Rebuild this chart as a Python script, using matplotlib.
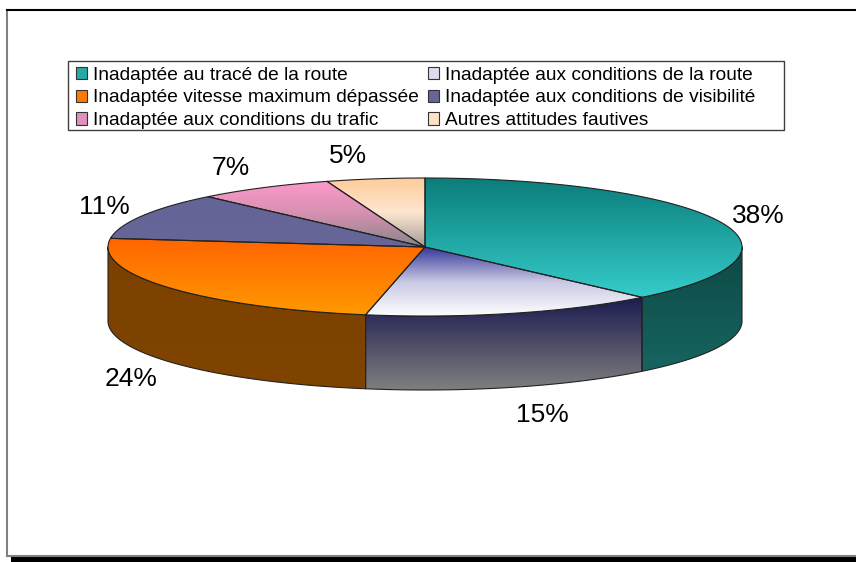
import numpy as np
import matplotlib
matplotlib.use('Agg')
import matplotlib.pyplot as plt
from matplotlib.patches import Polygon, Patch, Rectangle
from matplotlib.colors import to_rgb

plt.rcParams['font.family'] = ['Liberation Sans', 'DejaVu Sans']

# data
labels = ['Inadaptée au tracé de la route',
          'Inadaptée aux conditions de la route',
          'Inadaptée vitesse maximum dépassée',
          'Inadaptée aux conditions de visibilité',
          'Inadaptée aux conditions du trafic',
          'Autres attitudes fautives']
values = [38, 15, 24, 11, 7, 5]

# top face gradient stops (top -> bottom)
top_colors = [['#0a7c78', '#35cdcc'],
              ['#333399', '#c8c8e4', '#ffffff'],
              ['#ff6400', '#ff9a00'],
              ['#646496', '#666699'],
              ['#ff99cc', '#d590b0', '#858585'],
              ['#ffcc99', '#fde6d0', '#a09a94']]
# side gradient stops
side_colors = [['#0e4845', '#176560'],
               ['#1a1a4f', '#808080'],
               ['#7c4100', '#804400'],
               ['#333350', '#333350'],
               ['#804d66', '#804d66'],
               ['#806650', '#806650']]
legend_colors = ['#2aa8a6', '#dcdcef', '#ff7a00', '#666699', '#e091bb', '#ffe2c6']

# geometry in pixels
W, H = 856, 562
cx, cy = 425, 247
a, b = 317, 69
depth = 74

fig = plt.figure(figsize=(W / 100, H / 100), dpi=100)
ax = fig.add_axes([0, 0, 1, 1])


def pt(theta, dz=0):
    t = np.radians(theta)
    return cx + a * np.cos(t), cy - b * np.sin(t) + dz


def arc(t1, t2, dz=0, n=120):
    ts = np.linspace(t1, t2, n)
    return [pt(t, dz) for t in ts]


def grad_fill(verts, stops, z):
    verts = np.array(verts)
    poly = Polygon(verts, closed=True, facecolor='none', edgecolor='#222222',
                   lw=0.8, zorder=z + 0.5, joinstyle='round')
    ax.add_patch(poly)
    x0, y0 = verts.min(axis=0)
    x1, y1 = verts.max(axis=0)
    cols = np.array([to_rgb(c) for c in stops])
    pos = np.linspace(0, 1, len(stops))
    t = np.linspace(0, 1, 256)
    img = np.stack([np.interp(t, pos, cols[:, k]) for k in range(3)], axis=-1)
    im = ax.imshow(img[:, None, :], extent=(x0 - 1, x1 + 1, y1 + 1, y0 - 1),
                   origin='upper', aspect='auto', zorder=z, interpolation='bilinear')
    im.set_clip_path(poly)


# angles, clockwise from 12 o'clock
fr = np.array(values) / sum(values)
starts = 90 - 360 * np.concatenate([[0], np.cumsum(fr)[:-1]])
ends = starts - 360 * fr

# sides (front half only)
for i in range(len(values)):
    lo, hi = max(ends[i], -180), min(starts[i], 0)
    if lo < hi:
        top = arc(hi, lo)
        bot = arc(lo, hi, depth)
        grad_fill(top + bot, side_colors[i], 2)

# tops
for i in range(len(values)):
    verts = [(cx, cy)] + arc(starts[i], ends[i])
    grad_fill(verts, top_colors[i], 3)

# percentage labels
for i, v in enumerate(values):
    mid = np.radians((starts[i] + ends[i]) / 2)
    lx = cx + (a + 15) * np.cos(mid) + 25 * np.sign(np.cos(mid))
    ly = cy + 4 - (b + 27) * np.sin(mid) + (depth - 2 if np.sin(mid) < 0 else 0)
    ax.text(lx, ly, f'{v}%', fontsize=19, ha='center', va='center', color='black')

# frame
ax.add_patch(Rectangle((11, 556), W, 7, facecolor='black', edgecolor='none', zorder=1))
ax.plot([7.5, 7.5], [9.5, 555.5], color='#808080', lw=1.5, zorder=1)
ax.plot([7.5, W], [555.5, 555.5], color='#808080', lw=1.5, zorder=1)
ax.plot([7.5, W], [9.5, 9.5], color='black', lw=1.5, zorder=1)

ax.set_xlim(0, W)
ax.set_ylim(H, 0)
ax.axis('off')

# legend, filled row by row; frame drawn separately
handles = [Patch(facecolor=c, edgecolor='#333333', lw=0.8) for c in legend_colors]
order = [0, 2, 4, 1, 3, 5]
leg = ax.legend([handles[k] for k in order], [labels[k] for k in order], ncol=2,
                loc='upper left', bbox_to_anchor=(70 / W, 1 - 61 / H),
                fontsize=13.8, frameon=False, borderaxespad=0,
                handlelength=0.6, handleheight=0.6,
                handletextpad=0.3, labelspacing=0.3, borderpad=0.3, columnspacing=0.45)
ax.add_patch(Rectangle((68.5, 60.5), 716, 69, facecolor='white',
                       edgecolor='#404040', lw=1.0, zorder=0.5))

fig.savefig('out.png', dpi=100)
